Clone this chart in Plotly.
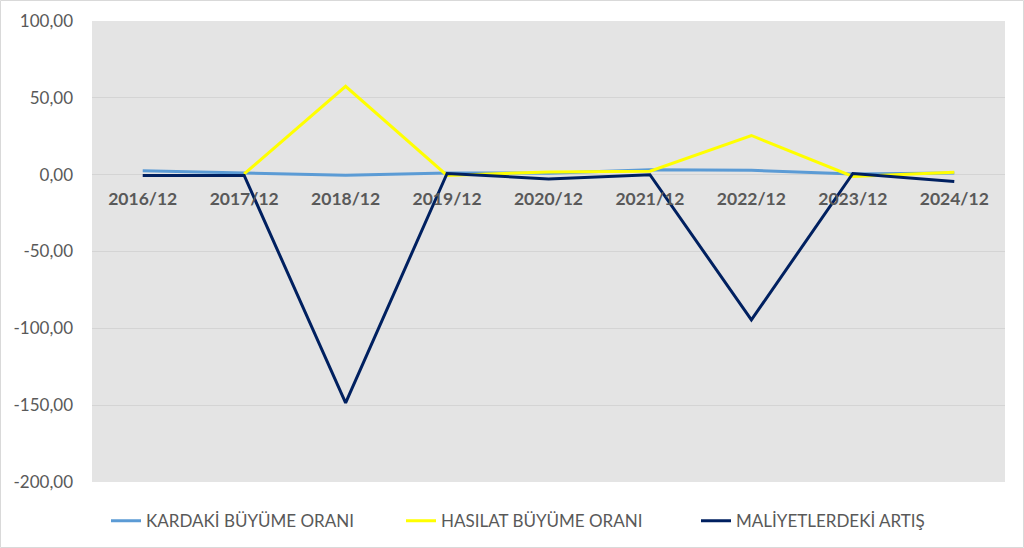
import plotly.graph_objects as go

periods = ["2016/12", "2017/12", "2018/12", "2019/12", "2020/12",
           "2021/12", "2022/12", "2023/12", "2024/12"]
kar_buyume = [2.5, 1.0, -0.3, 1.1, 1.0, 3.2, 2.8, 0.4, 1.1]
hasilat_buyume = [None, 0.5, 57.5, -0.5, 1.8, 2.3, 25.5, -1.2, 1.5]
maliyet_artis = [-0.5, -0.5, -148.5, 0.8, -2.8, 0.0, -94.5, 0.8, -4.5]

y_ticks = [100, 50, 0, -50, -100, -150, -200]
y_tick_labels = ["100,00", "50,00", "0,00", "-50,00", "-100,00", "-150,00", "-200,00"]

series = [
    ("KARDAKİ BÜYÜME ORANI", kar_buyume, "#5B9BD5"),
    ("HASILAT BÜYÜME ORANI", hasilat_buyume, "#FFFF00"),
    ("MALİYETLERDEKİ ARTIŞ", maliyet_artis, "#002060"),
]

TEXT = "#595959"
FONT = "Lato, 'Open Sans', sans-serif"

fig = go.Figure()
for name, values, color in series:
    fig.add_trace(go.Scatter(
        x=periods, y=values, name=name, mode="lines",
        line={"color": color, "width": 3},
        connectgaps=False,
    ))

W, H = 1024, 548
L, R, T, B = 92, 19, 21, 66
pw, ph = W - L - R, H - T - B
y_min, y_max = -200, 100

fig.update_layout(
    width=W,
    height=H,
    margin={"l": L, "r": R, "t": T, "b": B, "pad": 0, "autoexpand": False},
    paper_bgcolor="white",
    plot_bgcolor="#E4E4E4",
    font={"family": FONT, "color": TEXT, "size": 16},
    showlegend=True,
    legend={
        "orientation": "h",
        "x": 0.5, "xanchor": "center",
        "y": -0.085, "yanchor": "middle",
        "font": {"size": 17, "color": TEXT},
        "entrywidth": 250, "entrywidthmode": "pixels",
        "itemwidth": 30,
        "bgcolor": "rgba(0,0,0,0)",
    },
    xaxis={
        "type": "category",
        "anchor": "free",
        "position": (0 - y_min) / (y_max - y_min),
        "showgrid": False,
        "showline": False,
        "zeroline": False,
        "ticks": "",
        "ticklabelstandoff": 12,
        "tickfont": {"size": 17.5, "color": TEXT, "family": FONT, "weight": "bold"},
        "range": [-0.5, len(periods) - 0.5],
    },
    yaxis={
        "range": [y_min, y_max],
        "tickmode": "array",
        "tickvals": y_ticks,
        "ticktext": y_tick_labels,
        "showgrid": True,
        "gridcolor": "#D4D4D4",
        "gridwidth": 1,
        "zeroline": False,
        "showline": False,
        "ticks": "",
        "ticklabelstandoff": 18,
        "tickfont": {"size": 17, "color": TEXT, "family": FONT},
    },
    shapes=[{
        "type": "rect", "xref": "paper", "yref": "paper",
        "x0": -(L - 0.5) / pw, "x1": (W - 0.5 - L) / pw,
        "y0": -(B - 0.5) / ph, "y1": (H - 0.5 - B) / ph,
        "line": {"color": "#D9D9D9", "width": 1},
        "fillcolor": "rgba(0,0,0,0)",
        "layer": "below",
    }],
)

fig.write_html("out.html", config={"displayModeBar": False},
               post_script="document.body.style.margin='0';")
